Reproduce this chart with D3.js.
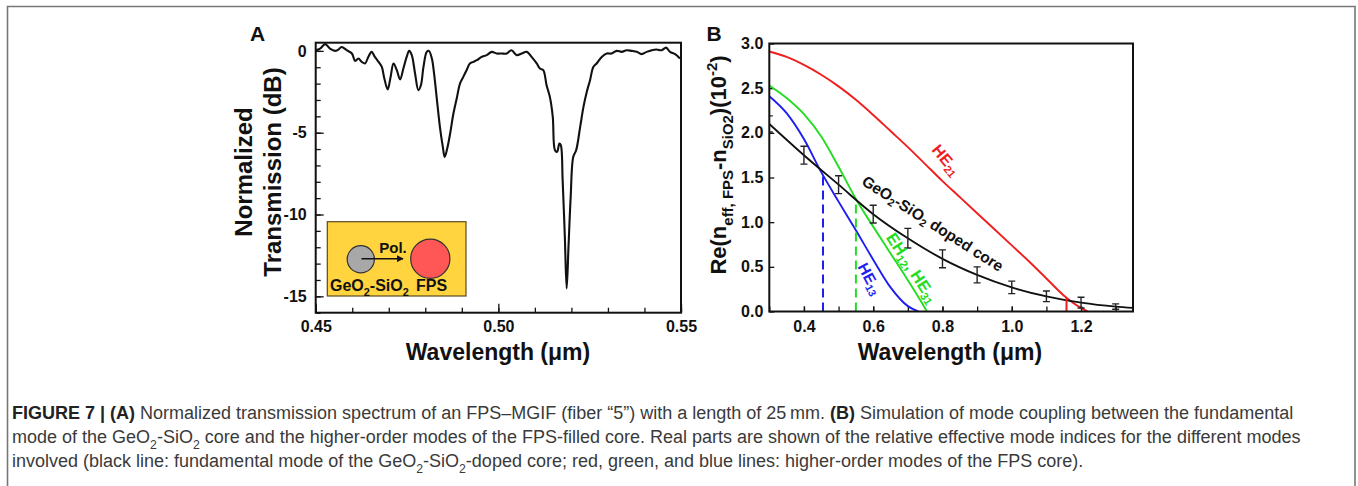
<!DOCTYPE html>
<html>
<head>
<meta charset="utf-8">
<script src="https://cdn.jsdelivr.net/npm/d3@7"></script>
<style>
  html, body { margin: 0; padding: 0; background: #fff; }
  svg { display: block; }
  text { font-family: "Liberation Sans", Arial, sans-serif; }
</style>
</head>
<body>
<svg id="chart" width="1358" height="486"></svg>
<script>
// ---------------- DATA ----------------
// Panel A: normalized transmission spectrum
const specWl = [
  0.4500,0.4512,0.4526,0.4539,0.4553,0.4562,0.4571,0.4585,0.4599,0.4608,
  0.4617,0.4626,0.4635,0.4644,0.4653,0.4662,0.4672,0.4681,0.4687,0.4697,
  0.4705,0.4713,0.4722,0.4731,0.4740,0.4749,0.4756,0.4763,0.4772,0.4781,
  0.4788,0.4795,0.4804,0.4810,0.4818,0.4824,0.4831,0.4840,0.4848,0.4853,
  0.4860,0.4868,0.4877,0.4886,0.4895,0.4904,0.4913,0.4922,0.4932,0.4941,
  0.4954,0.4968,0.4982,0.4995,0.5009,0.5023,0.5036,0.5050,0.5064,0.5078,
  0.5091,0.5105,0.5114,0.5123,0.5132,0.5141,0.5149,0.5155,0.5161,0.5167,
  0.5171,0.5176,0.5182,0.5187,0.5192,0.5198,0.5205,0.5213,0.5224,0.5233,
  0.5242,0.5251,0.5260,0.5269,0.5283,0.5297,0.5310,0.5324,0.5338,0.5351,
  0.5365,0.5379,0.5392,0.5406,0.5420,0.5433,0.5447,0.5459,0.5470,0.5484,0.5497];
const specDb = [
  0.04,0.14,0.41,0.14,0.00,0.08,0.24,0.04,-0.16,-0.61,
  -0.47,-0.67,-0.77,-0.37,-0.06,-0.37,-0.67,-0.98,-1.59,-2.36,
  -1.59,-0.77,-1.18,-1.75,-1.08,-0.37,0.00,-0.26,-1.38,-2.40,
  -2.10,-0.98,-0.06,0.00,-0.47,-1.38,-2.81,-4.64,-5.87,-6.48,
  -5.97,-5.05,-3.83,-2.91,-2.00,-1.59,-1.18,-0.77,-0.67,-0.57,
  -0.37,-0.26,-0.06,-0.16,-0.16,-0.16,0.04,-0.26,-0.16,-0.06,
  -0.37,-0.77,-1.08,-1.18,-2.10,-2.81,-4.03,-6.07,-6.17,-5.66,
  -5.76,-7.90,-11.36,-14.52,-11.98,-8.92,-6.48,-6.07,-4.64,-3.42,
  -2.51,-1.79,-0.98,-0.77,-0.37,-0.16,-0.16,0.00,-0.06,0.04,
  0.00,-0.06,-0.20,-0.06,0.04,0.08,0.04,0.20,-0.06,-0.20,-0.47];
const aXTicksMajor = [0.45, 0.50, 0.55];
const aYTicksMajor = [0, -5, -10, -15];

// Panel B: relative effective mode indices (x10^-2)
const he21X = [0.30,0.35,0.40,0.45,0.50,0.55,0.60,0.65,0.70,0.75,0.80,0.85,0.90,0.95,1.00,1.05,1.10,1.15,1.20,1.22];
const he21Y = [2.91,2.85,2.76,2.65,2.52,2.37,2.20,2.02,1.84,1.65,1.46,1.28,1.10,0.92,0.74,0.56,0.37,0.18,0.04,0.00];
const eh12X = [0.30,0.35,0.40,0.45,0.50,0.55,0.60,0.65,0.70,0.74,0.755];
const eh12Y = [2.53,2.39,2.21,1.96,1.62,1.26,0.95,0.65,0.35,0.10,0.00];
const he13X = [0.30,0.35,0.40,0.45,0.50,0.55,0.60,0.65,0.70,0.73];
const he13Y = [2.41,2.22,1.93,1.56,1.23,0.91,0.58,0.27,0.06,0.00];
const coreX = [0.30,0.40,0.50,0.60,0.70,0.80,0.90,1.00,1.10,1.20,1.30,1.35];
const coreY = [2.10,1.75,1.42,1.09,0.82,0.59,0.41,0.27,0.17,0.10,0.055,0.04];
const errX  = [0.30,0.40,0.50,0.60,0.70,0.80,0.90,1.00,1.10,1.20,1.30];
const errY  = [2.10,1.75,1.42,1.09,0.82,0.59,0.41,0.27,0.17,0.10,0.055];
const errD  = [0.09,0.10,0.10,0.10,0.11,0.10,0.09,0.07,0.06,0.06,0.03];
const crossX = [0.455, 0.55];      // phase-matching wavelengths (blue, green)
const crossY = [1.55, 1.22];
const cutX = 1.158, cutY = 0.15;   // red marker
const bXTicksMajor = [0.4,0.6,0.8,1.0,1.2];
const bXTicksMinor = [0.3,0.4,0.5,0.6,0.7,0.8,0.9,1.0,1.1,1.2,1.3];
const bYTicks = [0,0.5,1.0,1.5,2.0,2.5,3.0];

// ---------------- DRAW ----------------
const svg = d3.select("#chart");
const BOLD = "bold";

function rich(text, segs, size) {
  let shift = 0;
  segs.forEach(s => {
    const ts = text.append("tspan").text(s.t);
    const target = s.sub ? size * 0.32 : (s.sup ? -size * 0.42 : 0);
    if (target - shift !== 0) ts.attr("dy", target - shift);
    shift = target;
    if (s.sub || s.sup) ts.attr("font-size", size * 0.68);
    if (s.b) ts.attr("font-weight", "bold");
    if (s.fill) ts.attr("fill", s.fill);
  });
  return text;
}

// figure border
svg.append("path")
  .attr("d", "M7.5,490 V6.5 H1355 V490")
  .attr("fill", "none").attr("stroke", "#777").attr("stroke-width", 1.6);

// ===== Panel A =====
const xA = d3.scaleLinear([0.45, 0.55], [315.7, 681]);
const yA = d3.scaleLinear([-16, 0.5], [312.7, 42.7]);
const gA = svg.append("g");

svg.append("clipPath").attr("id", "clipA").append("rect")
  .attr("x", xA(0.45)).attr("y", yA(0.5)).attr("width", xA(0.55) - xA(0.45)).attr("height", yA(-16) - yA(0.5));

const minorXA = d3.range(0.45, 0.5501, 0.01).map(v => +v.toFixed(2));
gA.append("g").attr("transform", `translate(0,${yA(-16)})`)
  .call(d3.axisBottom(xA).tickValues(minorXA).tickSizeInner(-5).tickSizeOuter(0).tickFormat(""))
  .call(g => g.select(".domain").remove());
gA.append("g").attr("transform", `translate(0,${yA(-16)})`)
  .call(d3.axisBottom(xA).tickValues(aXTicksMajor).tickSizeInner(-9).tickSizeOuter(0).tickPadding(8)
        .tickFormat(d3.format(".2f")))
  .call(g => g.select(".domain").remove())
  .call(g => g.selectAll("text").attr("font-size", 16).attr("font-weight", BOLD).attr("fill", "#111"));
const minorYA = d3.range(-16, 0.01, 1);
gA.append("g").attr("transform", `translate(${xA(0.45)},0)`)
  .call(d3.axisLeft(yA).tickValues(minorYA).tickSizeInner(-5).tickSizeOuter(0).tickFormat(""))
  .call(g => g.select(".domain").remove());
gA.append("g").attr("transform", `translate(${xA(0.45)},0)`)
  .call(d3.axisLeft(yA).tickValues(aYTicksMajor).tickSizeInner(-8).tickSizeOuter(0).tickPadding(9)
        .tickFormat(d => String(d)))
  .call(g => g.select(".domain").remove())
  .call(g => g.selectAll("text").attr("font-size", 16).attr("font-weight", BOLD).attr("fill", "#111"));
gA.selectAll(".tick line").attr("stroke", "#111").attr("stroke-width", 1.3);

const specData = specWl.map((w, i) => [w, specDb[i]]);
gA.append("path").datum(specData)
  .attr("clip-path", "url(#clipA)")
  .attr("fill", "none").attr("stroke", "#111").attr("stroke-width", 2.1).attr("stroke-linejoin", "round")
  .attr("d", d3.line().x(d => xA(d[0])).y(d => yA(d[1])).curve(d3.curveCatmullRom.alpha(0.5)));

gA.append("rect").attr("x", xA(0.45)).attr("y", yA(0.5))
  .attr("width", xA(0.55) - xA(0.45)).attr("height", yA(-16) - yA(0.5))
  .attr("fill", "none").attr("stroke", "#111").attr("stroke-width", 2);

// inset
const inset = gA.append("g").attr("font-family", "Lato, 'Open Sans', sans-serif").attr("font-weight", BOLD);
inset.append("rect").attr("x", 327.3).attr("y", 221.7).attr("width", 138.7).attr("height", 74.3)
  .attr("fill", "#FFD43F").attr("stroke", "#5a4a20").attr("stroke-width", 1.2);
inset.append("circle").attr("cx", 360.8).attr("cy", 259.2).attr("r", 13.6)
  .attr("fill", "#A8A8A8").attr("stroke", "#333").attr("stroke-width", 1.2);
inset.append("circle").attr("cx", 430.3).attr("cy", 258.8).attr("r", 19.6)
  .attr("fill", "#FF5656").attr("stroke", "#333").attr("stroke-width", 1.2);
svg.append("defs").append("marker").attr("id", "arrow").attr("viewBox", "0 0 10 10")
  .attr("refX", 9).attr("refY", 5).attr("markerWidth", 4.5).attr("markerHeight", 4.5).attr("orient", "auto")
  .append("path").attr("d", "M0,0 L10,5 L0,10 z").attr("fill", "#111");
inset.append("line").attr("x1", 361.5).attr("y1", 258.7).attr("x2", 403).attr("y2", 258.7)
  .attr("stroke", "#111").attr("stroke-width", 1.6).attr("marker-end", "url(#arrow)");
inset.append("text").attr("x", 393).attr("y", 253).attr("text-anchor", "middle").attr("font-size", 15)
  .attr("fill", "#111").text("Pol.");
rich(inset.append("text").attr("x", 330).attr("y", 290.5).attr("font-size", 16).attr("fill", "#111"),
  [{t: "GeO"}, {t: "2", sub: true}, {t: "-SiO"}, {t: "2", sub: true}], 16);
inset.append("text").attr("x", 431.5).attr("y", 290.5).attr("text-anchor", "middle").attr("font-size", 16)
  .attr("fill", "#111").text("FPS");

gA.append("text").attr("x", 257.5).attr("y", 41).attr("text-anchor", "middle")
  .attr("font-size", 21).attr("font-weight", BOLD).attr("fill", "#111").text("A");
gA.append("text").attr("x", 498).attr("y", 360).attr("text-anchor", "middle")
  .attr("font-size", 23).attr("font-weight", BOLD).attr("fill", "#111").text("Wavelength (μm)");
const yTitleA = gA.append("text").attr("transform", "translate(0,172) rotate(-90)")
  .attr("text-anchor", "middle").attr("font-size", 24).attr("font-weight", BOLD).attr("fill", "#111");
yTitleA.append("tspan").attr("x", 0).attr("y", 252).text("Normalized");
yTitleA.append("tspan").attr("x", 0).attr("y", 281).text("Transmission (dB)");

// ===== Panel B =====
const xB = d3.scaleLinear([0.3, 1.35], [769.3, 1133]);
const yB = d3.scaleLinear([0, 3], [311.5, 43.5]);
const gB = svg.append("g");

svg.append("clipPath").attr("id", "clipB").append("rect")
  .attr("x", xB(0.3)).attr("y", yB(3)).attr("width", xB(1.35) - xB(0.3)).attr("height", yB(0) - yB(3));

gB.append("g").attr("transform", `translate(0,${yB(0)})`)
  .call(d3.axisBottom(xB).tickValues(bXTicksMinor).tickSizeInner(-5).tickSizeOuter(0).tickFormat(""))
  .call(g => g.select(".domain").remove());
gB.append("g").attr("transform", `translate(0,${yB(0)})`)
  .call(d3.axisBottom(xB).tickValues(bXTicksMajor).tickSizeInner(-5).tickSizeOuter(0).tickPadding(9)
        .tickFormat(d3.format(".1f")))
  .call(g => g.select(".domain").remove())
  .call(g => g.selectAll("text").attr("font-size", 16).attr("font-weight", BOLD).attr("fill", "#111"));
gB.append("g").attr("transform", `translate(${xB(0.3)},0)`)
  .call(d3.axisLeft(yB).tickValues(bYTicks).tickSizeInner(-5).tickSizeOuter(0).tickPadding(6)
        .tickFormat(d3.format(".1f")))
  .call(g => g.select(".domain").remove())
  .call(g => g.selectAll("text").attr("font-size", 16).attr("font-weight", BOLD).attr("fill", "#111"));
gB.selectAll(".tick line").attr("stroke", "#111").attr("stroke-width", 1.3);

const lineB = d3.line().x(d => xB(d[0])).y(d => yB(d[1])).curve(d3.curveMonotoneX);
const curves = [
  {x: he21X, y: he21Y, c: "#F01E1E"},
  {x: eh12X, y: eh12Y, c: "#22DD22"},
  {x: he13X, y: he13Y, c: "#1E1EF0"},
  {x: coreX, y: coreY, c: "#111"}
];
const plotB = gB.append("g").attr("clip-path", "url(#clipB)");
curves.forEach(cv => {
  plotB.append("path").datum(cv.x.map((v, i) => [v, cv.y[i]]))
    .attr("fill", "none").attr("stroke", cv.c).attr("stroke-width", 1.9)
    .attr("d", lineB);
});
const dashCol = ["#1E1EF0", "#22DD22"];
crossX.forEach((cx, i) => {
  plotB.append("line").attr("x1", xB(cx)).attr("x2", xB(cx)).attr("y1", yB(0)).attr("y2", yB(crossY[i]))
    .attr("stroke", dashCol[i]).attr("stroke-width", 2).attr("stroke-dasharray", "9,5");
});
plotB.append("line").attr("x1", xB(cutX)).attr("x2", xB(cutX)).attr("y1", yB(0)).attr("y2", yB(cutY))
  .attr("stroke", "#F01E1E").attr("stroke-width", 2);
errX.forEach((ex, i) => {
  const x = xB(ex), y1 = yB(errY[i] - errD[i]), y2 = yB(errY[i] + errD[i]);
  const g = plotB.append("g").attr("stroke", "#222").attr("stroke-width", 1.4);
  g.append("line").attr("x1", x).attr("x2", x).attr("y1", y1).attr("y2", y2);
  g.append("line").attr("x1", x - 3.5).attr("x2", x + 3.5).attr("y1", y1).attr("y2", y1);
  g.append("line").attr("x1", x - 3.5).attr("x2", x + 3.5).attr("y1", y2).attr("y2", y2);
});

gB.append("rect").attr("x", xB(0.3)).attr("y", yB(3))
  .attr("width", xB(1.35) - xB(0.3)).attr("height", yB(0) - yB(3))
  .attr("fill", "none").attr("stroke", "#111").attr("stroke-width", 2);

function label(x, y, angle, segs, color, size) {
  const t = gB.append("text")
    .attr("transform", `translate(${xB(x)},${yB(y)}) rotate(${angle})`)
    .attr("text-anchor", "middle").attr("dominant-baseline", "central")
    .attr("font-size", size).attr("font-weight", BOLD).attr("fill", color);
  rich(t, segs, size);
}
label(0.812, 1.70, 50, [{t: "HE"}, {t: "21", sub: true}], "#F01E1E", 16);
label(0.773, 0.99, 32.5, [{t: "GeO"}, {t: "2", sub: true}, {t: "-SiO"}, {t: "2", sub: true}, {t: " doped core"}], "#111", 15.5);
label(0.713, 0.49, 57, [{t: "EH"}, {t: "12", sub: true}, {t: ", HE"}, {t: "31", sub: true}], "#22DD22", 16.5);
label(0.592, 0.37, 62, [{t: "HE"}, {t: "13", sub: true}], "#1E1EF0", 15.5);

gB.append("text").attr("x", 714).attr("y", 41).attr("text-anchor", "middle")
  .attr("font-size", 21).attr("font-weight", BOLD).attr("fill", "#111").text("B");
gB.append("text").attr("x", 950).attr("y", 360).attr("text-anchor", "middle")
  .attr("font-size", 23).attr("font-weight", BOLD).attr("fill", "#111").text("Wavelength (μm)");
rich(gB.append("text").attr("transform", "translate(726,165) rotate(-90)")
  .attr("text-anchor", "middle").attr("font-size", 22).attr("font-weight", BOLD).attr("fill", "#111"),
  [{t: "Re(n"}, {t: "eff, FPS", sub: true}, {t: "-n"}, {t: "SiO2", sub: true}, {t: ")(10"}, {t: "-2", sup: true}, {t: ")"}], 22);

// ===== Caption =====
const cap = svg.append("g").attr("font-size", 18).attr("fill", "#3a3a3a");
const capLines = [
  [{t: "FIGURE 7 | ", b: true, fill: "#222"}, {t: "(A)", b: true, fill: "#222"},
   {t: " Normalized transmission spectrum of an FPS–MGIF (fiber “5”) with a length of 25\u2009mm. "},
   {t: "(B)", b: true, fill: "#222"}, {t: " Simulation of mode coupling between the fundamental"}],
  [{t: "mode of the GeO"}, {t: "2", sub: true}, {t: "-SiO"}, {t: "2", sub: true},
   {t: " core and the higher-order modes of the FPS-filled core. Real parts are shown of the relative effective mode indices for the different modes"}],
  [{t: "involved (black line: fundamental mode of the GeO"}, {t: "2", sub: true}, {t: "-SiO"}, {t: "2", sub: true},
   {t: "-doped core; red, green, and blue lines: higher-order modes of the FPS core)."}]
];
capLines.forEach((segs, i) => {
  rich(cap.append("text").attr("x", 12).attr("y", 419 + i * 24), segs, 18);
});
</script>
</body>
</html>
